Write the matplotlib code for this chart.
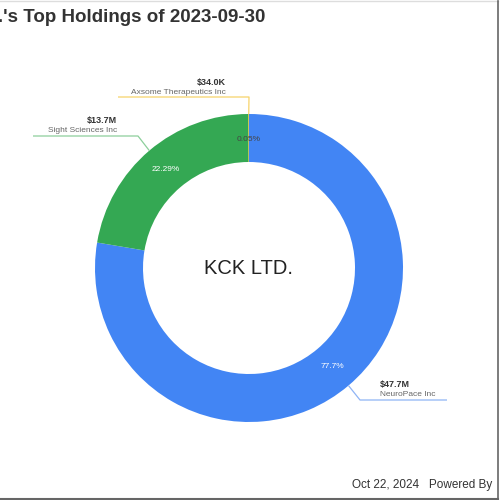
import matplotlib
matplotlib.use("Agg")
import matplotlib.pyplot as plt
import numpy as np

plt.rcParams['font.family'] = ['Liberation Sans', 'DejaVu Sans']

# ---- data ----
holdings = ["NeuroPace Inc", "Sight Sciences Inc", "Axsome Therapeutics Inc"]
values_musd = [47.7, 13.7, 0.034]
value_labels = ["$47.7M", "$13.7M", "$34.0K"]
pct_labels = ["77.7%", "22.29%", "0.05%"]
colors = ["#4285F4", "#34A853", "#FBBC05"]
pct_colors = ["white", "white", "#444444"]
holder = "KCK LTD."
title = "KCK LTD.'s Top Holdings of 2023-09-30"
footer = "Oct 22, 2024   Powered By"

W = H = 500
fig = plt.figure(figsize=(5, 5), dpi=100)
ax = fig.add_axes([0, 0, 1, 1])
ax.set_xlim(0, W)
ax.set_ylim(0, H)
ax.axis('off')

def P(x, y):  # pixel (top-left origin) -> data
    return x, H - y

cx, cy = P(249, 268)
R = 154
width = 48

wedges, _ = ax.pie(values_musd, colors=colors, startangle=90, counterclock=False,
                   radius=R, center=(cx, cy),
                   wedgeprops=dict(width=width, edgecolor='none'))
ax.set_xlim(0, W)
ax.set_ylim(0, H)
ax.set_aspect('equal')

# percentage labels inside ring
for w, lab, c in zip(wedges, pct_labels, pct_colors):
    ang = np.deg2rad((w.theta1 + w.theta2) / 2)
    r = R - width / 2 - 1
    ax.text(cx + r * np.cos(ang), cy + r * np.sin(ang), lab, ha='center', va='center',
            fontsize=6, color=c)

# external labels with leader lines
line_colors = ["#8fb4f5", "#8ccf9b", "#f7d36a"]
layouts = [
    dict(elbow=(360, 400), end=(447, 400), tx=380, ha='left'),
    dict(elbow=(138, 136), end=(33, 136), tx=117, ha='right'),
    dict(elbow=(249, 97), end=(118, 97), tx=226, ha='right'),
]
for w, lay, lc, vl, name in zip(wedges, layouts, line_colors, value_labels, holdings):
    ang = np.deg2rad((w.theta1 + w.theta2) / 2)
    sx, sy = cx + R * np.cos(ang), cy + R * np.sin(ang)
    ex, ey = P(*lay['elbow'])
    fx, fy = P(*lay['end'])
    ax.plot([sx, ex, fx], [sy, ey, fy], color=lc, lw=0.9, solid_capstyle='butt')
    ax.text(lay['tx'], fy + 15, vl, ha=lay['ha'], va='center', fontsize=6.5,
            fontweight='bold', color='#333333')
    ax.text(lay['tx'], fy + 5, name, ha=lay['ha'], va='center', fontsize=6,
            color='#666666')

# center text
ax.text(cx, cy, holder, ha='center', va='center', fontsize=14.5, color='#222222')

# title (clipped on the left, as in the reference)
tx, ty = P(265, 18)
ax.text(tx, ty, title, ha='right', va='center', fontsize=13.5, fontweight='bold',
        color='#333333')

# footer
fx_, fy_ = P(352, 485)
ax.text(fx_, fy_, footer, ha='left', va='center', fontsize=8.5, color='#333333')

# frame lines (top faint, right and bottom darker)
ax.plot([0, 498], [H - 1, H - 1], color='#dddddd', lw=1, clip_on=False)
ax.plot([498, 498], [H - 1, 1], color='#666666', lw=1.2, clip_on=False)
ax.plot([0, 498], [1, 1], color='#666666', lw=1.5, clip_on=False)

fig.savefig("out.png", dpi=100)
